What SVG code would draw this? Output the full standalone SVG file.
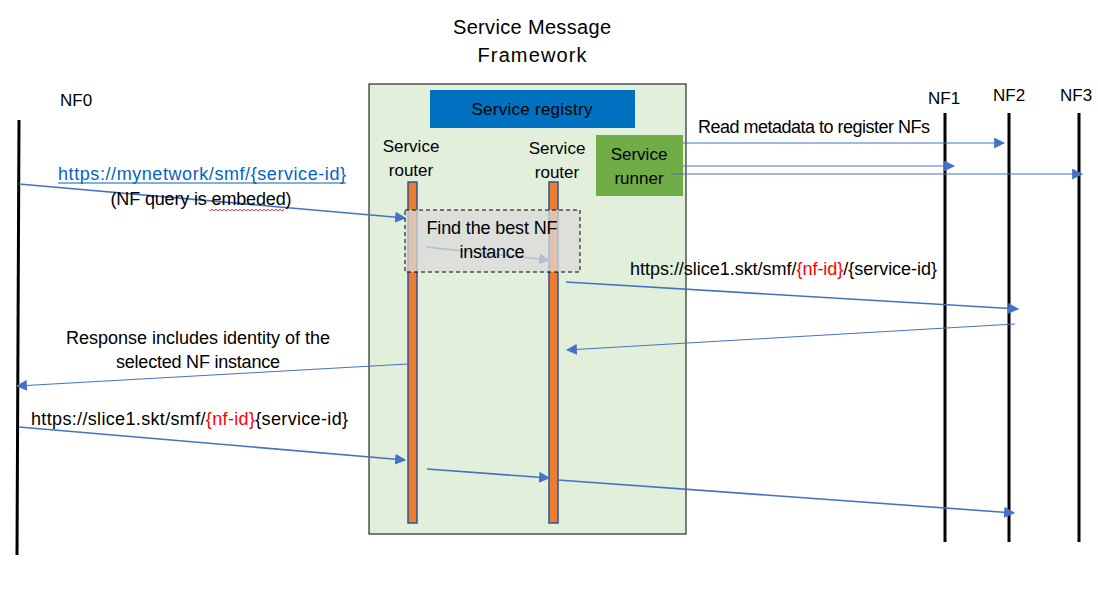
<svg xmlns="http://www.w3.org/2000/svg" width="1098" height="591" viewBox="0 0 1098 591">
<defs>
<marker id="ah2" viewBox="0 0 10 10" refX="9" refY="5" markerWidth="11" markerHeight="11" markerUnits="userSpaceOnUse" orient="auto"><path d="M0,0L10,5L0,10z" fill="#4472C4"/></marker>
<style>
text{font-family:"Liberation Sans",Arial,sans-serif;font-size:17px;fill:#000}
.t{font-size:20px}
.l{font-size:18px}
.life{stroke:#000;stroke-width:3}
.arr{stroke:#4472C4;stroke-width:1.6;fill:none;marker-end:url(#ah2)}
.thin{stroke:#4472C4;stroke-width:1;fill:none;marker-end:url(#ah2)}
.bar{fill:#ED7D31;stroke:#2F5597;stroke-width:1.5}
.red{fill:#FF0000}
</style>
</defs>
<rect width="1098" height="591" fill="#fff"/>
<g id="title"><text class="t" x="532" y="34" text-anchor="middle" textLength="158">Service Message</text><text class="t" x="532" y="62" text-anchor="middle" textLength="109">Framework</text></g>
<g id="framework"><rect x="369" y="84" width="317" height="450" fill="#E2EFDA" stroke="#000" stroke-width="1"/></g>
<g id="registry"><rect x="430" y="90" width="205" height="38" fill="#0070C0"/><text x="532" y="115" text-anchor="middle" textLength="121">Service registry</text></g>
<g id="runner"><rect x="596" y="135" width="87" height="61" fill="#70AD47"/><text x="639" y="160" text-anchor="middle">Service</text><text x="639" y="184" text-anchor="middle">runner</text></g>
<g id="router1"><text x="411" y="152" text-anchor="middle">Service</text><text x="411" y="176" text-anchor="middle">router</text><rect class="bar" x="408" y="182" width="9" height="341"/></g>
<g id="router2"><text x="557" y="154" text-anchor="middle">Service</text><text x="557" y="178" text-anchor="middle">router</text><rect class="bar" x="549" y="182" width="9" height="341"/></g>
<g id="nf0"><text x="60" y="106">NF0</text><line class="life" x1="19" y1="120" x2="17" y2="555"/></g>
<g id="nf1"><text x="928" y="104">NF1</text><line class="life" x1="945" y1="113" x2="945" y2="542"/></g>
<g id="nf2"><text x="993" y="101">NF2</text><line class="life" x1="1009" y1="113" x2="1009" y2="542"/></g>
<g id="nf3"><text x="1060" y="101">NF3</text><line class="life" x1="1079" y1="113" x2="1079" y2="542"/></g>
<g id="connectors">
<line class="arr" x1="426" y1="247" x2="549" y2="260"/>
<line class="arr" x1="19" y1="184" x2="405" y2="218"/>
<line class="arr" x1="566" y1="282" x2="1018" y2="309"/>
<line class="thin" x1="1015" y1="324" x2="567" y2="350"/>
<line class="thin" x1="408" y1="364" x2="17" y2="386"/>
<line class="arr" x1="19" y1="427" x2="405" y2="460"/>
<line class="arr" x1="427" y1="469" x2="549" y2="478"/>
<line class="arr" x1="558" y1="480" x2="1014" y2="513"/>
<line class="thin" x1="683" y1="143" x2="1004" y2="143"/>
<line class="thin" x1="683" y1="166" x2="954" y2="166"/>
<line class="thin" x1="671" y1="174" x2="1082" y2="174"/>
</g>
<g id="find"><rect x="405" y="210" width="175" height="62" fill="#D9D9D9" fill-opacity="0.75" stroke="#000" stroke-width="1" stroke-dasharray="4,3"/><text class="l" x="492" y="234" text-anchor="middle" textLength="131">Find the best NF</text><text class="l" x="492" y="258" text-anchor="middle" textLength="65">instance</text></g>
<g id="labels">
<text class="l" x="202" y="180" text-anchor="middle" style="fill:#0563C1" textLength="288">https://mynetwork/smf/{service-id}</text>
<line x1="58" y1="183" x2="346" y2="183" stroke="#0563C1" stroke-width="1"/>
<text class="l" x="201" y="205" text-anchor="middle" textLength="181">(NF query is embeded)</text>
<path d="M210,211 l2,-2 l2,2 l2,-2 l2,2 l2,-2 l2,2 l2,-2 l2,2 l2,-2 l2,2 l2,-2 l2,2 l2,-2 l2,2 l2,-2 l2,2 l2,-2 l2,2 l2,-2 l2,2 l2,-2 l2,2 l2,-2 l2,2 l2,-2 l2,2 l2,-2 l2,2 l2,-2 l2,2 l2,-2 l2,2 l2,-2 l2,2 l2,-2 l2,2 l2,-2" fill="none" stroke="#E00" stroke-width="0.8"/>
<text class="l" x="698" y="133" textLength="232">Read metadata to register NFs</text>
<text class="l" x="630" y="275" textLength="307">https://slice1.skt/smf/<tspan class="red">{nf-id}</tspan>/{service-id}</text>
<text class="l" x="198" y="344" text-anchor="middle" textLength="264">Response includes identity of the</text>
<text class="l" x="198" y="368" text-anchor="middle" textLength="164">selected NF instance</text>
<text class="l" x="31" y="425" textLength="317">https://slice1.skt/smf/<tspan class="red">{nf-id}</tspan>{service-id}</text>
</g>
</svg>
